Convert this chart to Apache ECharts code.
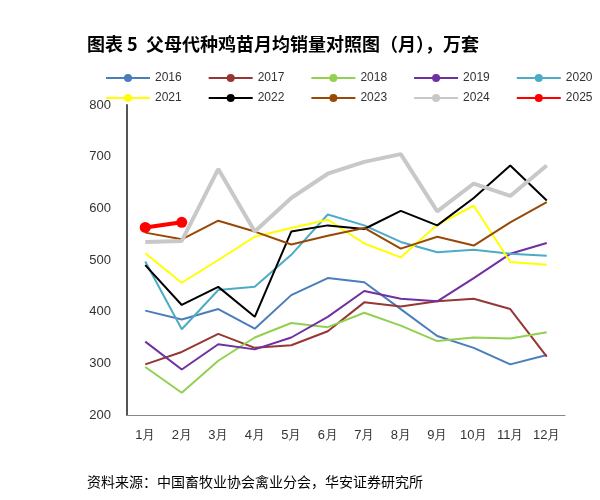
<!DOCTYPE html><html><head><meta charset="utf-8"><script src="https://cdn.jsdelivr.net/npm/echarts@6/dist/echarts.min.js"></script></head><body style="margin:0;background:#fff"><div id="c" style="width:600px;height:500px"></div><script>
const months=['1月','2月','3月','4月','5月','6月','7月','8月','9月','10月','11月','12月'];
const s2016=[402,385,405,367,432,465,457,405,353,330,298,316];
const s2017=[298,322,357,330,335,362,418,410,420,425,405,313];
const s2018=[293,243,305,350,378,370,398,373,343,350,348,360];
const s2019=[342,288,337,327,350,390,440,425,420,465,512,533];
const s2020=[497,366,442,448,510,588,567,535,515,520,512,508];
const s2021=[513,456,500,545,562,578,532,505,568,605,496,491];
const s2022=[490,413,448,390,555,567,560,595,567,620,683,615];
const s2023=[553,540,576,555,530,547,562,522,545,528,573,612];
const s2024=[535,537,676,555,620,667,690,705,594,648,624,683];
const s2025=[563,573];
const names=['2016','2017','2018','2019','2020','2021','2022','2023','2024','2025'];
const data=[s2016,s2017,s2018,s2019,s2020,s2021,s2022,s2023,s2024,s2025];
const colors=['#4a7ebb','#953735','#92d050','#7030a0','#4bacc6','#ffff00','#000000','#984807','#c8c8c8','#ff0000'];
const widths=[2,2,2,2,2,2,2,2,4,4];
const series=names.map((n,i)=>({name:n,type:'line',data:data[i],color:colors[i],
 symbol:n==='2025'?'circle':'none',symbolSize:11,showSymbol:n==='2025',
 lineStyle:{width:widths[i],color:colors[i]},itemStyle:{color:colors[i]}}));
const lg=(d,top)=>({left:100,top:top,itemWidth:44,itemHeight:10,itemGap:26,textStyle:{fontSize:12,color:'#333'},data:d});
const ch=echarts.init(document.getElementById('c'));
ch.setOption({animation:false,
 title:[{text:'图表 5  父母代种鸡苗月均销量对照图（月），万套',left:82,top:30,textStyle:{fontSize:18,fontWeight:'bold',color:'#000',fontFamily:'Noto Sans CJK SC'}},
  {text:'资料来源：中国畜牧业协会禽业分会，华安证券研究所',left:82,top:470,textStyle:{fontSize:14,fontWeight:'normal',color:'#000',fontFamily:'Noto Sans CJK SC'}}],
 legend:[lg(names.slice(0,5),67),lg(names.slice(5),87)],
 grid:{left:127,right:35,top:105,bottom:85},
 xAxis:{type:'category',data:months,axisLine:{lineStyle:{color:'#888'}},axisTick:{show:false},axisLabel:{fontSize:13,color:'#333',margin:14}},
 yAxis:{type:'value',min:200,max:800,interval:100,splitLine:{show:false},axisLine:{show:true,lineStyle:{color:'#555',width:2}},axisTick:{show:false},axisLabel:{fontSize:13,color:'#333',margin:16}},
 series});
</script></body></html>
